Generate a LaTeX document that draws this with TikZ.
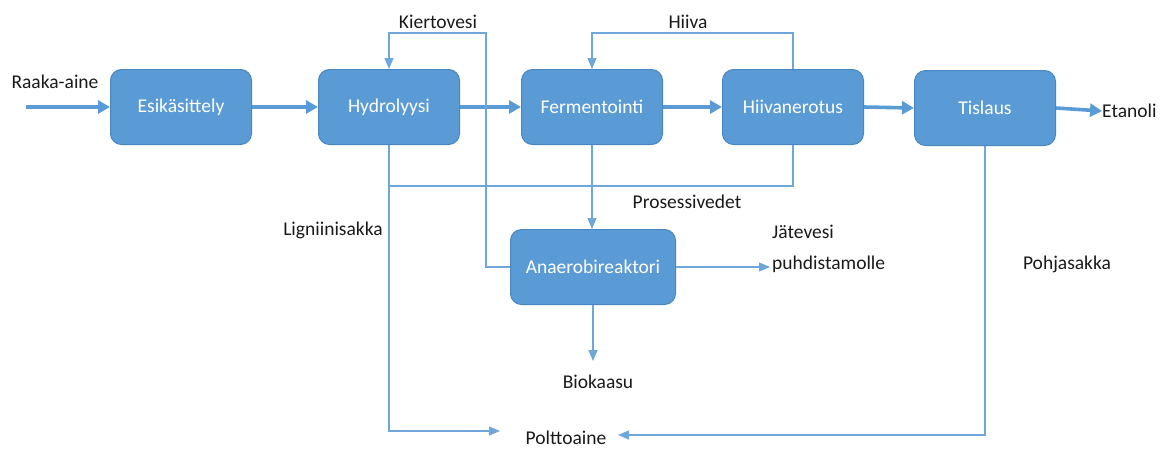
\documentclass[tikz,border=0pt]{standalone}
\usepackage{fontspec}
\setmainfont{Carlito}
\usetikzlibrary{arrows.meta}
\definecolor{boxfill}{HTML}{5B9BD5}
\definecolor{boxline}{HTML}{4A86BF}
\definecolor{flow}{HTML}{5B9BD5}
\definecolor{thinflow}{HTML}{6FA7DB}
\definecolor{lbl}{HTML}{1A1A1A}
\tikzset{
  procbox/.style={draw=boxline, line width=1pt, fill=boxfill, rounded corners=11pt,
    minimum width=141pt, minimum height=75pt, inner sep=0pt, text=white,
    font=\fontsize{19.5pt}{22pt}\selectfont},
  lab/.style={text=lbl, inner sep=0pt, font=\fontsize{19.5pt}{22pt}\selectfont},
  bigarrow/.style={draw=flow, line width=3.6pt, -{Triangle[length=12pt,width=13pt]}},
  thinarrow/.style={draw=thinflow, line width=1.3pt, -{Triangle[length=11pt,width=9pt]}},
  thinline/.style={draw=thinflow, line width=1.3pt},
}
\begin{document}
\begin{tikzpicture}[x=1pt,y=-1pt]
\useasboundingbox (0,0) rectangle (1163,448);
% boxes
\node[procbox] (esi) at (181,107) {Esikäsittely};
\node[procbox] (hyd) at (389,107) {Hydrolyysi};
\node[procbox] (fer) at (592,107) {Fermentointi};
\node[procbox] (hii) at (793,107) {Hiivanerotus};
\node[procbox] (tis) at (985,108) {Tislaus};
\node[procbox, minimum width=165pt] (ana) at (593,267) {Anaerobireaktori};
% labels
\node[lab] (raaka) at (55,82) {Raaka-aine};
\node[lab] (kier) at (438,22) {Kiertovesi};
\node[lab] (hiiva) at (688,22) {Hiiva};
\node[lab, anchor=west] (eta) at (1102,111) {Etanoli};
\node[lab] (pros) at (687,202) {Prosessivedet};
\node[lab] (lign) at (333,230) {Ligniinisakka};
\node[lab, anchor=west] (jate) at (772,232) {Jätevesi};
\node[lab, anchor=west] (puhd) at (772,264) {puhdistamolle};
\node[lab] (pohj) at (1067,264) {Pohjasakka};
\node[lab] (bio) at (598,382) {Biokaasu};
\node[lab] (polt) at (566,438) {Polttoaine};
% coordinates
\coordinate (raw) at (26,107);
\coordinate (k1) at (486,33);
\coordinate (pv) at (593,186);
\coordinate (pl) at (500,431);
\coordinate (pr) at (618,435);
\coordinate (jw) at (770,267);
\coordinate (bg) at (593,361);
% thick flows
\draw[bigarrow] (raw) -- (esi.west);
\draw[bigarrow] (esi) -- (hyd);
\draw[bigarrow] (hyd) -- (fer);
\draw[bigarrow] (fer) -- (hii);
\draw[bigarrow] (hii.east) -- (tis.west);
\draw[bigarrow] (tis.east) -- (eta.west);
% thin flows
\draw[thinarrow] (ana.west) -| (k1) -| (hyd.north);
\draw[thinarrow] (hii.north) -- ++(0,-36) -| (fer.north);
\draw[thinline] (hyd.south) |- (pv) -| (hii.south);
\draw[thinarrow] (fer.south) -- (fer.south |- ana.north);
\draw[thinarrow] (hyd.south) |- (pl);
\draw[thinarrow] (tis.south) |- (pr);
\draw[thinarrow] (ana.east) -- (jw);
\draw[thinarrow] (ana.south) -- (bg);
\end{tikzpicture}
\end{document}
